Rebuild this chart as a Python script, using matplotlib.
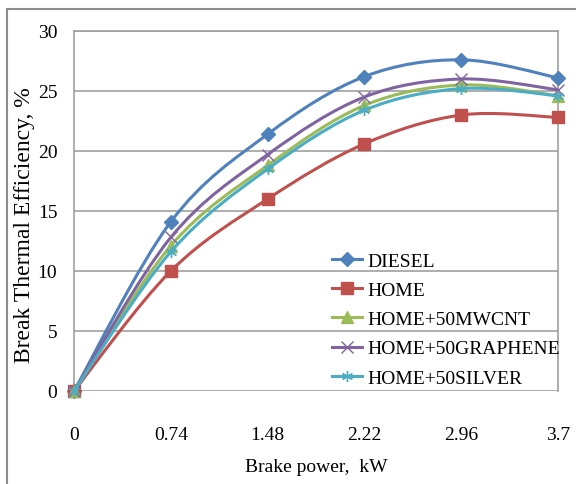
import numpy as np
import matplotlib
matplotlib.use("Agg")
import matplotlib.pyplot as plt
from matplotlib.path import Path
from matplotlib.patches import PathPatch, Rectangle
from matplotlib.lines import Line2D

# data
power = [0, 0.74, 1.48, 2.22, 2.96, 3.7]
power_labels = ["0", "0.74", "1.48", "2.22", "2.96", "3.7"]
series_names = ["DIESEL", "HOME", "HOME+50MWCNT", "HOME+50GRAPHENE", "HOME+50SILVER"]
diesel = [0, 14.1, 21.4, 26.2, 27.6, 26.1]
home = [0, 10.0, 16.0, 20.6, 23.0, 22.8]
mwcnt = [0, 12.1, 18.8, 23.8, 25.5, 24.6]
graphene = [0, 12.8, 19.7, 24.5, 26.0, 25.1]
silver = [0, 11.6, 18.5, 23.4, 25.2, 24.6]

colors = ["#4F81BD", "#C0504D", "#9BBB59", "#8064A2", "#4BACC6"]
markers = ["D", "s", "^", "x", (6, 2, 0)]
msizes = [7, 8, 8, 8, 8]

plt.rcParams['font.family'] = ['Liberation Serif', 'DejaVu Serif']

fig = plt.figure(figsize=(5.76, 4.85), dpi=100)
# outer chart border (Excel style)
fig.patches.append(Rectangle((7/576, -0.05), 1.0, 1 - 10/485 + 0.05, transform=fig.transFigure,
                             fill=False, edgecolor="#8c8c8c", linewidth=1.5))
ax = fig.add_axes([74/576, 1 - 392/485, 484/576, 360/485])


def smooth_path(xs, ys):
    # Excel-like smoothed line: cubic bezier with catmull-rom control points
    pts = np.column_stack([xs, ys]).astype(float)
    n = len(pts)
    verts = [pts[0]]
    codes = [Path.MOVETO]
    for i in range(n - 1):
        p0 = pts[max(i - 1, 0)]
        p1 = pts[i]
        p2 = pts[i + 1]
        p3 = pts[min(i + 2, n - 1)]
        c1 = p1 + (p2 - p0) / 6.0
        c2 = p2 - (p3 - p1) / 6.0
        verts += [c1, c2, p2]
        codes += [Path.CURVE4] * 3
    return Path(verts, codes)


all_series = [diesel, home, mwcnt, graphene, silver]
handles = []
for k, vals in enumerate(all_series):
    patch = PathPatch(smooth_path(power, vals), fill=False, edgecolor=colors[k],
                      linewidth=2.2, zorder=3 + k, capstyle='round', joinstyle='round')
    ax.add_patch(patch)
    ax.plot(power, vals, linestyle='none', marker=markers[k], markersize=msizes[k],
            color=colors[k], markeredgewidth=1.0, zorder=3.5 + k, clip_on=False)
    handles.append(Line2D([], [], color=colors[k], linewidth=2.2, marker=markers[k],
                          markersize=msizes[k], markeredgewidth=1.0))

ax.set_xlim(0, 3.7)
ax.set_ylim(0, 30)
ax.set_xticks(power)
ax.set_xticklabels(power_labels)
ax.set_yticks(range(0, 31, 5))
ax.tick_params(axis='both', length=0, labelsize=14)
ax.tick_params(axis='x', pad=25)
ax.tick_params(axis='y', pad=12)
ax.yaxis.grid(True, color="#a0a0a0", linewidth=1.2)
ax.set_axisbelow(True)
for side in ['left', 'top', 'right']:
    ax.spines[side].set_color("#a0a0a0")
    ax.spines[side].set_linewidth(1.2)
ax.spines['bottom'].set_visible(False)

ax.set_xlabel("Brake power,  kW", fontsize=14, va='center')
ax.xaxis.set_label_coords(0.5, (392 - 468) / 360)
ax.set_ylabel("Break Thermal Efficiency, %", fontsize=17, va='center')
ax.yaxis.set_label_coords((25 - 74) / 484, (392 - 225) / 360)

ax.legend(handles, series_names, loc='upper left', bbox_to_anchor=(332/576, 1 - 253/485),
          bbox_transform=fig.transFigure, frameon=False, fontsize=14, borderpad=0,
          borderaxespad=0, handlelength=1.55, handletextpad=0.26, labelspacing=0.6)

fig.savefig("out.png", dpi=100)
